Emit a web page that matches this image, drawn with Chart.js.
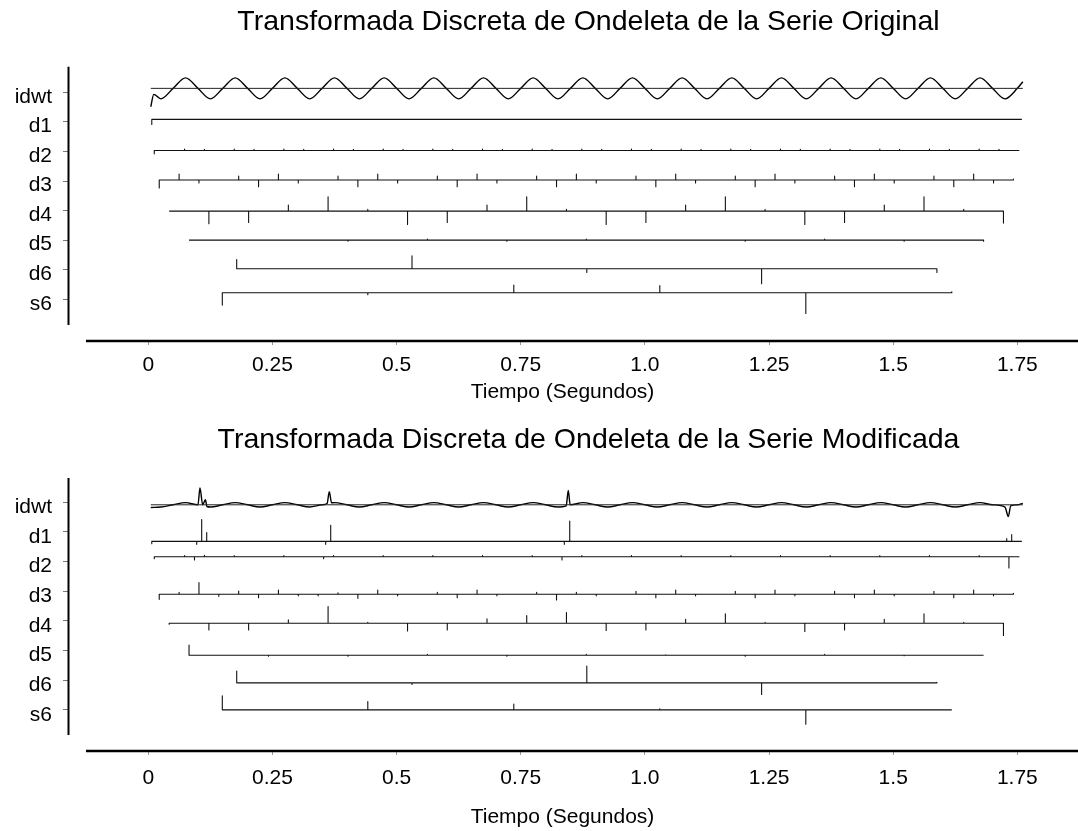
<!DOCTYPE html>
<html lang="es">
<head>
<meta charset="utf-8">
<title>Transformada Discreta de Ondeleta</title>
<script src="https://cdn.jsdelivr.net/npm/chart.js@4.4.1/dist/chart.umd.min.js"></script>
<style>
  html, body { margin:0; padding:0; background:#fff; overflow:hidden; width:1078px; height:831px; }
  canvas { position:absolute; left:0; display:block; }
  #cOrig { top:0; }
  #cMod { top:415px; }
</style>
</head>
<body>
<canvas id="cOrig" width="1177" height="415"></canvas>
<canvas id="cMod" width="1177" height="416"></canvas>
<script>
// ---------- text ----------
const titleOriginal = 'Transformada Discreta de Ondeleta de la Serie Original';
const titleModified = 'Transformada Discreta de Ondeleta de la Serie Modificada';
const xAxisTitle = 'Tiempo (Segundos)';
const tickValues = [0, 0.25, 0.5, 0.75, 1.0, 1.25, 1.5, 1.75];
const tickLabels = ['0', '0.25', '0.5', '0.75', '1.0', '1.25', '1.5', '1.75'];
const rowNames  = ['idwt', 'd1', 'd2', 'd3', 'd4', 'd5', 'd6', 's6'];
const rowLevels = [8, 7, 6, 5, 4, 3, 2, 1];

// ---------- idwt (reconstructed series), original ----------
const idwtTimesOrig = [0.005, 0.011,
  0.025, 0.05, 0.075, 0.1,  0.125, 0.15, 0.175, 0.2,  0.225, 0.25, 0.275, 0.3,  0.325, 0.35, 0.375, 0.4,
  0.425, 0.45, 0.475, 0.5,  0.525, 0.55, 0.575, 0.6,  0.625, 0.65, 0.675, 0.7,  0.725, 0.75, 0.775, 0.8,
  0.825, 0.85, 0.875, 0.9,  0.925, 0.95, 0.975, 1.0,  1.025, 1.05, 1.075, 1.1,  1.125, 1.15, 1.175, 1.2,
  1.225, 1.25, 1.275, 1.3,  1.325, 1.35, 1.375, 1.4,  1.425, 1.45, 1.475, 1.5,  1.525, 1.55, 1.575, 1.6,
  1.625, 1.65, 1.675, 1.7,
  1.725, 1.75, 1.761];
const idwtValuesOrig = [-1.84, -0.6,
  -1.05, 0, 1.05, 0,  -1.05, 0, 1.05, 0,  -1.05, 0, 1.05, 0,  -1.05, 0, 1.05, 0,
  -1.05, 0, 1.05, 0,  -1.05, 0, 1.05, 0,  -1.05, 0, 1.05, 0,  -1.05, 0, 1.05, 0,
  -1.05, 0, 1.05, 0,  -1.05, 0, 1.05, 0,  -1.05, 0, 1.05, 0,  -1.05, 0, 1.05, 0,
  -1.05, 0, 1.05, 0,  -1.05, 0, 1.05, 0,  -1.05, 0, 1.05, 0,  -1.05, 0, 1.05, 0,
  -1.05, 0, 1.05, 0,
  -1.05, 0, 0.66];

// ---------- idwt, modified ----------
const idwtTimesMod = [0.005,
  0.025, 0.05, 0.075, 0.1, 0.104, 0.1095, 0.115, 0.118,
  0.125, 0.15, 0.175, 0.2,
  0.225, 0.25, 0.275, 0.3,
  0.325, 0.35, 0.36, 0.3645, 0.369, 0.375, 0.4,
  0.425, 0.45, 0.475, 0.5,
  0.525, 0.55, 0.575, 0.6,
  0.625, 0.65, 0.675, 0.7,
  0.725, 0.75, 0.775, 0.8,
  0.825, 0.8415, 0.8457, 0.8495, 0.875, 0.9,
  0.925, 0.95, 0.975, 1.0,
  1.025, 1.05, 1.075, 1.1,
  1.125, 1.15, 1.175, 1.2,
  1.225, 1.25, 1.275, 1.3,
  1.325, 1.35, 1.375, 1.4,
  1.425, 1.45, 1.475, 1.5,
  1.525, 1.55, 1.575, 1.6,
  1.625, 1.65, 1.675, 1.7,
  1.725, 1.7318, 1.7366, 1.75, 1.761];
const idwtValuesMod = [-0.27,
  -0.22, 0, 0.22, 0, 1.67, 0, 0.5, -0.17,
  -0.22, 0, 0.22, 0,
  -0.22, 0, 0.22, 0,
  -0.22, 0, 0.13, 1.3, 0.2, 0.22, 0,
  -0.22, 0, 0.22, 0,
  -0.22, 0, 0.22, 0,
  -0.22, 0, 0.22, 0,
  -0.22, 0, 0.22, 0,
  -0.22, -0.1, 1.43, 0, 0.22, 0,
  -0.22, 0, 0.22, 0,
  -0.22, 0, 0.22, 0,
  -0.22, 0, 0.22, 0,
  -0.22, 0, 0.22, 0,
  -0.22, 0, 0.22, 0,
  -0.22, 0, 0.22, 0,
  -0.22, 0, 0.22, 0,
  -0.22, 0, 0.22, 0,
  -0.22, -1.17, -0.1, 0, 0.15];

// ---------- d1 ----------
const d1TimesOrig  = [0.007, 1.759];
const d1ValuesOrig = [-0.5, 0];
const d1TimesMod   = [0.007, 0.0975, 0.1075, 0.1176, 0.3572, 0.3673, 0.8377, 0.8486, 1.7286, 1.7386, 1.759];
const d1ValuesMod  = [-0.23, -0.3, 2.17, 0.87, -0.3, 1.6, -0.3, 2.03, 0.27, 0.67, 0];

// ---------- d2 ----------
const d2TimesOrig  = [0.012, 0.073, 0.113, 0.173, 0.213, 0.273, 0.313, 0.373, 0.413, 0.473, 0.513,
  0.573, 0.613, 0.673, 0.713, 0.773, 0.813, 0.873, 0.913, 0.973, 1.013, 1.073, 1.113, 1.173, 1.213,
  1.273, 1.313, 1.373, 1.413, 1.473, 1.513, 1.573, 1.613, 1.673, 1.713, 1.754];
const d2ValuesOrig = [-0.33, 0.15, 0.12, 0.15, 0.12, 0.15, 0.12, 0.15, 0.12, 0.15, 0.12,
  0.15, 0.12, 0.15, 0.12, 0.15, 0.12, 0.15, 0.12, 0.15, 0.12, 0.15, 0.12, 0.15, 0.12,
  0.15, 0.12, 0.15, 0.12, 0.15, 0.12, 0.15, 0.12, 0.15, 0.12, 0];
const d2TimesMod   = [0.012, 0.073, 0.093, 0.113, 0.173, 0.273, 0.353, 0.373, 0.473, 0.573, 0.673,
  0.773, 0.833, 0.873, 0.973, 1.073, 1.173, 1.273, 1.373, 1.473, 1.573, 1.673, 1.733, 1.754];
const d2ValuesMod  = [-0.2, 0.12, -0.33, 0.15, 0.12, 0.12, -0.2, 0.12, 0.12, 0.12, 0.12,
  0.12, -0.33, 0.12, 0.12, 0.12, 0.12, 0.12, 0.12, 0.12, 0.12, 0.12, -1.13, 0];

// ---------- d3 (same coefficient times in both series) ----------
const d3Times = [0.022, 0.062, 0.102, 0.142, 0.182, 0.222, 0.262, 0.302, 0.342, 0.382, 0.422,
  0.462, 0.502, 0.542, 0.582, 0.622, 0.662, 0.702, 0.742, 0.782, 0.822, 0.862, 0.902, 0.942,
  0.982, 1.022, 1.062, 1.102, 1.142, 1.182, 1.222, 1.262, 1.302, 1.342, 1.382, 1.422, 1.462,
  1.502, 1.542, 1.582, 1.622, 1.662, 1.702, 1.742];
const d3ValuesOrig = [-0.8, 0.6, -0.3, 0, 0.4,
  -0.67, 0.6, -0.3, 0, 0.4,  -0.67, 0.6, -0.3, 0, 0.4,  -0.67, 0.6, -0.3, 0, 0.4,
  -0.67, 0.6, -0.3, 0, 0.4,  -0.67, 0.6, -0.3, 0, 0.4,  -0.67, 0.6, -0.3, 0, 0.4,
  -0.67, 0.6, -0.3, 0, 0.4,  -0.67, 0.6, -0.3, 0.1];
const d3ValuesMod  = [-0.5, 0.2, 1.17, -0.2, 0.33,
  -0.33, 0.43, -0.15, -0.15, 0.15,  -0.4, 0.43, -0.15, 0, 0.2,  -0.33, 0.43, -0.15, 0, 0.2,
  -0.57, 0.2, -0.15, 0, 0.3,  -0.33, 0.43, -0.15, 0, 0.3,  -0.33, 0.43, -0.15, 0, 0.3,
  -0.33, 0.43, -0.15, 0, 0.3,  -0.33, 0.43, -0.15, 0.1];

// ---------- d4 ----------
const d4Times = [0.042, 0.122, 0.202, 0.282, 0.362, 0.442, 0.522, 0.602, 0.682, 0.762, 0.842,
  0.922, 1.002, 1.082, 1.162, 1.242, 1.322, 1.402, 1.482, 1.562, 1.642, 1.722];
const d4ValuesOrig = [0, -1.27, -1.13, 0.6, 1.43, 0.17, -1.33, -1.13, 0.6, 1.43, 0.17,
  -1.33, -1.13, 0.6, 1.43, 0.17, -1.33, -1.13, 0.6, 1.43, 0.17, -1.2];
const d4ValuesMod  = [-0.1, -0.67, -0.67, 0.33, 1.67, 0.1, -0.77, -0.67, 0.43, 0.77, 1.07,
  -0.73, -0.67, 0.4, 0.93, 0.1, -0.83, -0.67, 0.4, 0.93, 0.1, -1.23];

// ---------- d5 ----------
const d5Times = [0.082, 0.242, 0.402, 0.562, 0.722, 0.882, 1.042, 1.202, 1.362, 1.522, 1.682];
const d5ValuesOrig = [0, 0, -0.1, 0.1, -0.1, 0.1, 0, -0.1, 0.1, -0.1, -0.1];
const d5ValuesMod  = [1.03, -0.1, -0.1, 0.1, -0.1, 0.1, 0.05, -0.1, 0.1, -0.05, 0];

// ---------- d6 ----------
const d6Times = [0.178, 0.531, 0.883, 1.235, 1.588];
const d6ValuesOrig = [0.93, 1.3, -0.37, -1.5, -0.37];
const d6ValuesMod  = [1.17, -0.17, 1.67, -1.17, 0.05];

// ---------- s6 ----------
const s6Times = [0.149, 0.442, 0.736, 1.030, 1.324, 1.618];
const s6ValuesOrig = [-1.23, -0.2, 0.77, 0.73, -2.07, 0.1];
const s6ValuesMod  = [1.4, 0.83, 0.57, 0.1, -1.43, 0];

// ---------- drawing setup ----------
const FONT = "'Liberation Sans', Arial, Helvetica, sans-serif";
const AMP = 0.338;            // one coefficient unit in row units
const X_MIN = -0.1597, X_MAX = 1.8278, X_LINE_START = -0.1255;

function rowBase(level, vals) {
  const hi = Math.max(0, ...vals), lo = Math.min(0, ...vals);
  return level - (hi + lo) / 2 * AMP;
}
function stemPoints(level, times, vals) {
  const base = rowBase(level, vals);
  const pts = [];
  times.forEach((t, i) => {
    pts.push({x: t, y: base});
    if (vals[i] !== 0) {
      pts.push({x: t, y: base + vals[i] * AMP});
      pts.push({x: t, y: base});
    }
  });
  return pts;
}
function wavePoints(level, times, vals) {
  const base = rowBase(level, vals);
  return times.map((t, i) => ({x: t, y: base + vals[i] * AMP}));
}
function zeroLine(level, times, vals) {
  const base = rowBase(level, vals);
  return [{x: times[0], y: base}, {x: times[times.length - 1], y: base}];
}

function buildDatasets(idwtT, idwtV, rows) {
  const common = {yAxisID: 'y', xAxisID: 'x', pointRadius: 0, pointHoverRadius: 0,
                  fill: false, tension: 0, borderJoinStyle: 'round'};
  const ds = [];
  ds.push(Object.assign({}, common, {label: 'idwt-0', data: zeroLine(rowLevels[0], idwtT, idwtV),
          borderColor: '#222', borderWidth: 1}));
  ds.push(Object.assign({}, common, {label: 'idwt', data: wavePoints(rowLevels[0], idwtT, idwtV),
          borderColor: '#000', borderWidth: 1.4, cubicInterpolationMode: 'monotone'}));
  rows.forEach((r, i) => {
    ds.push(Object.assign({}, common, {label: rowNames[i + 1],
            data: stemPoints(rowLevels[i + 1], r[0], r[1]), borderColor: '#111', borderWidth: 1.1}));
  });
  return ds;
}

const axisLines = {
  id: 'axisLines',
  afterDraw(chart, args, opts) {
    const {ctx, chartArea, scales} = chart;
    const x = scales.x, y = scales.y;
    ctx.save();
    ctx.strokeStyle = '#000';
    ctx.lineCap = 'butt';
    ctx.lineWidth = 2;
    ctx.beginPath();
    ctx.moveTo(chartArea.left - 0.5, y.getPixelForValue(opts.yFrom));
    ctx.lineTo(chartArea.left - 0.5, y.getPixelForValue(opts.yTo));
    ctx.stroke();
    ctx.lineWidth = 2.5;
    ctx.beginPath();
    ctx.moveTo(x.getPixelForValue(opts.xFrom), chartArea.bottom);
    ctx.lineTo(chart.width, chartArea.bottom);
    ctx.stroke();
    ctx.restore();
  }
};

function makeChart(id, title, datasets, g) {
  return new Chart(document.getElementById(id), {
    type: 'line',
    data: {datasets},
    plugins: [axisLines],
    options: {
      responsive: false, animation: false, devicePixelRatio: 1, events: [],
      layout: {padding: 0},
      plugins: {
        legend: {display: false}, tooltip: {enabled: false},
        title: {display: true, text: title, color: '#000', fullSize: true,
                font: {family: FONT, size: 28.5, weight: 'normal'},
                padding: {top: g.tTop, bottom: g.tBottom}},
        axisLines: {yFrom: g.yMax, yTo: g.yLineEnd, xFrom: X_LINE_START}
      },
      scales: {
        x: {
          type: 'linear', position: 'bottom', min: X_MIN, max: X_MAX,
          afterBuildTicks: s => { s.ticks = tickValues.map(v => ({value: v})); },
          afterFit: s => { s.height = g.xHeight; },
          ticks: {autoSkip: false, maxRotation: 0, minRotation: 0, padding: g.xTickPad, color: '#000',
                  font: {family: FONT, size: 21},
                  callback: v => tickLabels[tickValues.indexOf(v)]},
          grid: {drawOnChartArea: false, drawTicks: true, tickLength: 4, color: '#999', lineWidth: 1},
          border: {display: false},
          title: {display: true, text: xAxisTitle, color: '#000', font: {family: FONT, size: 21},
                  padding: {top: 0, bottom: g.xTitlePad}}
        },
        y: {
          type: 'linear', position: 'left', min: g.yMin, max: g.yMax,
          afterBuildTicks: s => { s.ticks = rowLevels.map(v => ({value: v})); },
          afterFit: s => { s.width = 69; },
          ticks: {autoSkip: false, padding: 11, labelOffset: g.labelOffset, color: '#000',
                  font: {family: FONT, size: 21},
                  callback: v => rowNames[rowLevels.indexOf(v)]},
          grid: {drawOnChartArea: false, drawTicks: true, tickLength: 6, color: '#777', lineWidth: 1},
          border: {display: false}
        },
        yR: {
          type: 'linear', position: 'right', display: true,
          afterFit: s => { s.width = 121; },
          ticks: {display: false}, grid: {display: false}, border: {display: false}
        }
      }
    }
  });
}

makeChart('cOrig', titleOriginal,
  buildDatasets(idwtTimesOrig, idwtValuesOrig, [
    [d1TimesOrig, d1ValuesOrig], [d2TimesOrig, d2ValuesOrig], [d3Times, d3ValuesOrig],
    [d4Times, d4ValuesOrig], [d5Times, d5ValuesOrig], [d6Times, d6ValuesOrig], [s6Times, s6ValuesOrig]
  ]),
  {yMin: -0.410, yMax: 8.866, yLineEnd: 0.131, tTop: 5, tBottom: 27.5,
   xHeight: 74, xTickPad: 7.4, xTitlePad: 10, labelOffset: 4.5});

makeChart('cMod', titleModified,
  buildDatasets(idwtTimesMod, idwtValuesMod, [
    [d1TimesMod, d1ValuesMod], [d2TimesMod, d2ValuesMod], [d3Times, d3ValuesMod],
    [d4Times, d4ValuesMod], [d5Times, d5ValuesMod], [d6Times, d6ValuesMod], [s6Times, s6ValuesMod]
  ]),
  {yMin: -0.382, yMax: 8.819, yLineEnd: 0.157, tTop: 8.4, tBottom: 20.4,
   xHeight: 80, xTickPad: 10.7, xTitlePad: 1.4, labelOffset: 5});
</script>
</body>
</html>
